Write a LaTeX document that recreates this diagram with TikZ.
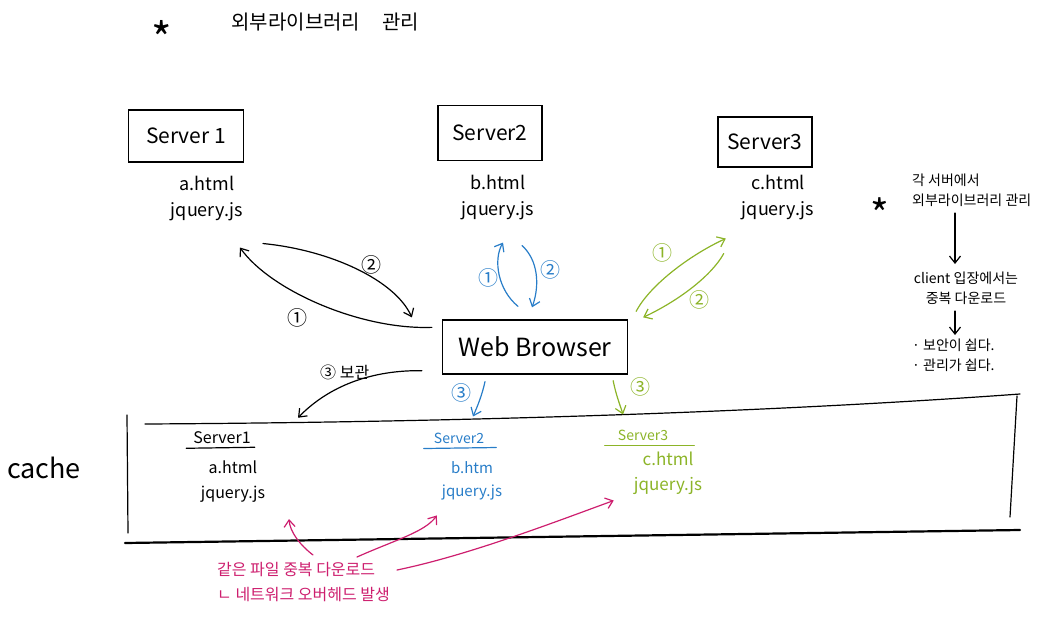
\documentclass[tikz,border=0pt]{standalone}
\usepackage{fontspec}
\setmainfont{Noto Sans CJK KR}
\usetikzlibrary{arrows.meta,positioning,calc}
\definecolor{penblue}{RGB}{40,125,200}
\definecolor{pengreen}{RGB}{140,180,40}
\definecolor{penpink}{RGB}{205,30,110}

\begin{document}
\begin{tikzpicture}[x=1pt,y=-1pt,
  pen/.style={line width=1.2pt,line cap=round},
  tip/.style={-{Straight Barb[length=7pt,width=11pt]}},
  srvbox/.style={draw,line width=1.3pt,inner sep=0pt,font=\fontsize{21}{24}\selectfont},
  files/.style={align=center,inner sep=0pt,font=\fontsize{18}{26}\selectfont},
  cfiles/.style={align=center,inner sep=0pt,font=\fontsize{15}{23}\selectfont},
  num/.style={inner sep=0pt,font=\fontsize{20}{20}\selectfont},
  note/.style={align=left,anchor=north west,inner sep=0pt,font=\fontsize{14}{20}\selectfont}]
\useasboundingbox (0,0) rectangle (1056,623);

% title
\node[font=\fontsize{44}{44}\selectfont] (star) at (162,38) {*};
\node[anchor=west,font=\fontsize{20}{20}\selectfont] (title) at (228,22) {외부라이브러리\hspace{22pt}관리};

% servers
\node[srvbox,minimum width=115pt,minimum height=52pt] (s1) at (186,136) {Server 1};
\node[srvbox,minimum width=104pt,minimum height=55pt] (s2) at (490,133) {Server2};
\node[srvbox,minimum width=94pt,minimum height=50pt] (s3) at (765,142) {Server3};
\node[files] (f1) at (207,199) {a.html\\jquery.js};
\node[files] (f2) at (498,198) {b.html\\jquery.js};
\node[files] (f3) at (778,198) {c.html\\jquery.js};

\node[srvbox,minimum width=185pt,minimum height=54pt,font=\fontsize{25}{28}\selectfont] (web) at (535,347) {Web Browser};

% server 1 <-> browser
\draw[pen,tip] ($(web.north west)+(-10,8)$) .. controls (360,330) and (270,290) .. ($(f1.south)+(33,26)$);
\draw[pen,tip] ($(f1.south)+(56,22)$) .. controls (330,250) and (395,280) .. ($(web.north west)+(-30,-2)$);
\node[num] (k1) at (297,318) {①};
\node[num] (k2) at (371,265) {②};

% server 2 <-> browser
\draw[pen,tip,penblue] ($(web.north)+(-17,-13)$) .. controls (498,290) and (493,260) .. ($(f2.south)+(5,22)$);
\draw[pen,tip,penblue] ($(f2.south)+(24,25)$) .. controls (538,260) and (540,285) .. ($(web.north)+(-3,-12)$);
\node[num,penblue] (b1) at (488,278) {①};
\node[num,penblue] (b2) at (550,270) {②};

% server 3 <-> browser
\draw[pen,tip,pengreen] ($(web.north east)+(8,-8)$) .. controls (650,285) and (690,255) .. ($(f3.south west)+(-16,18)$);
\draw[pen,tip,pengreen] ($(f3.south west)+(-18,33)$) .. controls (712,275) and (680,300) .. ($(web.north east)+(15,-2)$);
\node[num,pengreen] (g1) at (662,253) {①};
\node[num,pengreen] (g2) at (699,300) {②};

% cache
\node[font=\fontsize{27}{27}\selectfont] (cache) at (44,468) {cache};
\draw[pen] (127,415) -- (128,533);
\draw[pen] (145,424) .. controls (500,422) and (800,410) .. (1020,394);
\draw[pen] (1017,396) -- (1010,517);
\draw[line width=2.2pt,line cap=round] (125,543) -- (1020,530);

\node[cfiles,font=\fontsize{16}{16}\selectfont] (c1h) at (222,438) {Server1};
\draw[pen] ($(c1h.south west)+(-7,4)$) -- ($(c1h.south east)+(4,3)$);
\node[cfiles,font=\fontsize{16}{25}\selectfont] (c1) at (233,482) {a.html\\jquery.js};
\node[cfiles,penblue,font=\fontsize{14}{14}\selectfont] (c2h) at (459,438) {Server2};
\draw[pen,penblue] ($(c2h.south west)+(-10,5)$) -- ($(c2h.south east)+(12,4)$);
\node[cfiles,penblue] (c2) at (472,481) {b.htm\\jquery.js};
\node[cfiles,pengreen,font=\fontsize{14}{14}\selectfont] (c3h) at (643,435) {Server3};
\draw[pen,pengreen] ($(c3h.south west)+(-13,5)$) -- ($(c3h.south east)+(26,5)$);
\node[cfiles,pengreen,font=\fontsize{17}{25}\selectfont] (c3) at (668,473) {c.html\\jquery.js};

% browser -> cache
\draw[pen,tip] ($(web.south west)+(-20,-4)$) .. controls (365,370) and (325,390) .. ($(c1h.north)+(76,-14)$);
\node[num,anchor=west,font=\fontsize{16}{16}\selectfont] (k3) at (320,372) {③ 보관};
\draw[pen,tip,penblue] ($(web.south)+(-50,7)$) .. controls (482,395) and (478,405) .. ($(c2h.north)+(14,-16)$);
\node[num,penblue] (b3) at (461,393) {③};
\draw[pen,tip,pengreen] ($(web.south east)+(-15,6)$) .. controls (616,395) and (620,405) .. ($(c3h.north)+(-20,-15)$);
\node[num,pengreen] (g3) at (640,387) {③};

% duplicate download
\node[penpink,align=left,anchor=north west,inner sep=0pt,font=\fontsize{16}{25}\selectfont] (dup) at (217,562) {같은 파일 중복 다운로드\\ㄴ 네트워크 오버헤드 발생};
\draw[pen,tip,penpink] ($(dup.north west)+(96,-7)$) .. controls (300,545) and (290,532) .. ($(c1.south)+(56,16)$);
\draw[pen,tip,penpink] ($(dup.north west)+(140,-5)$) .. controls (395,540) and (425,532) .. ($(c2.south west)+(-5,15)$);
\draw[pen,tip,penpink] ($(dup.north west)+(180,8)$) .. controls (470,555) and (560,520) .. ($(c3.south west)+(-20,6)$);

% note
\node[font=\fontsize{40}{40}\selectfont] (nstar) at (880,214) {*};
\node[note] (n1) at (912,174) {각 서버에서\\외부라이브러리 관리};
\node[note,align=center,anchor=north] (n2) at (966,272) {client 입장에서는\\중복 다운로드};
\node[note] (n3) at (912,339) {· 보안이 쉽다.\\· 관리가 쉽다.};
\draw[pen,tip] ($(n1.south west)+(43,6)$) -- ($(n2.north)+(-11,-8)$);
\draw[pen,tip] ($(n2.south)+(-11,6)$) -- ($(n3.north west)+(43,-4)$);
\end{tikzpicture}
\end{document}
